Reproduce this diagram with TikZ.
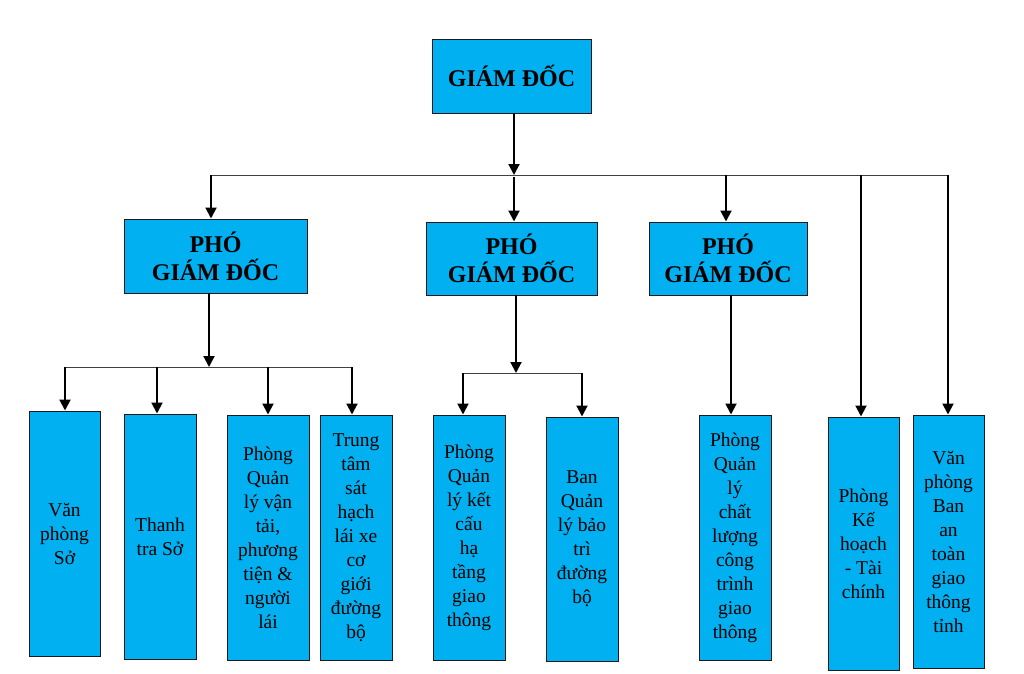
\documentclass[tikz,border=0pt]{standalone}
\usepackage{fontspec}
\setmainfont{Liberation Serif}
\usetikzlibrary{arrows.meta}
\definecolor{boxblue}{HTML}{00B0F0}
\definecolor{edge}{HTML}{1A1A1A}
\begin{document}
\begin{tikzpicture}[x=1pt,y=-1pt,
 box/.style={draw=edge,line width=1pt,fill=boxblue,inner sep=0pt,align=center,anchor=center},
 head/.style={box,font=\bfseries\fontsize{24}{28}\selectfont},
 unit/.style={box,font=\fontsize{19.5}{24}\selectfont},
 arr/.style={line width=2pt,draw=black,-{Triangle[length=11pt,width=11pt]}},
 bus/.style={line width=1pt,draw=black!75}]
\useasboundingbox (0,0) rectangle (1024,673);
% boxes
\node[head,minimum width=159,minimum height=74] (gd) at (511.5,76) {GIÁM ĐỐC};
\node[head,minimum width=183,minimum height=74] (p1) at (215.5,256) {PHÓ\\GIÁM ĐỐC};
\node[head,minimum width=171,minimum height=73] (p2) at (511.5,258.5) {PHÓ\\GIÁM ĐỐC};
\node[head,minimum width=158,minimum height=73] (p3) at (728,258.5) {PHÓ\\GIÁM ĐỐC};
\node[unit,minimum width=71,minimum height=245] (vps) at (64.5,533.5) {Văn\\phòng\\Sở};
\node[unit,minimum width=72,minimum height=245] (tt) at (160,536.5) {Thanh\\tra Sở};
\node[unit,minimum width=82,minimum height=245] (vt) at (268,537.5) {Phòng\\Quản\\lý vận\\tải,\\phương\\tiện \&\\người\\lái};
\node[unit,minimum width=72,minimum height=245] (sh) at (356,537.5) {Trung\\tâm\\sát\\hạch\\lái xe\\cơ\\giới\\đường\\bộ};
\node[unit,minimum width=72,minimum height=245] (kc) at (469,537.5) {Phòng\\Quản\\lý kết\\cấu\\hạ\\tầng\\giao\\thông};
\node[unit,minimum width=72,minimum height=244] (bt) at (582,539) {Ban\\Quản\\lý bảo\\trì\\đường\\bộ};
\node[unit,minimum width=72,minimum height=245] (cl) at (735,537.5) {Phòng\\Quản\\lý\\chất\\lượng\\công\\trình\\giao\\thông};
\node[unit,minimum width=71,minimum height=253] (kh) at (863.5,543.5) {Phòng\\Kế\\hoạch\\- Tài\\chính};
\node[unit,minimum width=71,minimum height=253] (at) at (948.5,541.5) {Văn\\phòng\\Ban\\an\\toàn\\giao\\thông\\tỉnh};
% top bus
\coordinate (busL) at (211,175);
\coordinate (busR) at (948,175);
\draw[bus] (busL) -- (busR);
\coordinate (g0) at (514,113);
\draw[arr] (g0) -- (g0 |- busL);
\coordinate (t1) at (211,175);
\coordinate (t2) at (514,177);
\coordinate (t3) at (726,175);
\coordinate (t4) at (861,175);
\coordinate (t5) at (948,175);
\draw[arr] (t1) -- (t1 |- p1.north);
\draw[arr] (t2) -- (t2 |- p2.north);
\draw[arr] (t3) -- (t3 |- p3.north);
\draw[arr] (t4) -- (t4 |- kh.north);
\draw[arr] (t5) -- (t5 |- at.north);
% PGD1 sub-tree
\coordinate (p1d) at (209,293);
\coordinate (s1L) at (65,367);
\coordinate (s1R) at (353,367);
\draw[bus] (s1L) -- (s1R);
\draw[arr] (p1d) -- (p1d |- s1L);
\coordinate (s11) at (65,367);
\coordinate (s12) at (157,367);
\coordinate (s13) at (268,367);
\coordinate (s14) at (352,367);
\draw[arr] (s11) -- (s11 |- vps.north);
\draw[arr] (s12) -- (s12 |- tt.north);
\draw[arr] (s13) -- (s13 |- vt.north);
\draw[arr] (s14) -- (s14 |- sh.north);
% PGD2 sub-tree
\coordinate (p2d) at (516,295);
\coordinate (s2L) at (463,373);
\coordinate (s2R) at (582,373);
\draw[bus] (s2L) -- (s2R);
\draw[arr] (p2d) -- (p2d |- s2L);
\draw[arr] (s2L) -- (s2L |- kc.north);
\draw[arr] (s2R) -- (s2R |- bt.north);
% PGD3
\coordinate (p3d) at (731,295);
\draw[arr] (p3d) -- (p3d |- cl.north);
\end{tikzpicture}
\end{document}
